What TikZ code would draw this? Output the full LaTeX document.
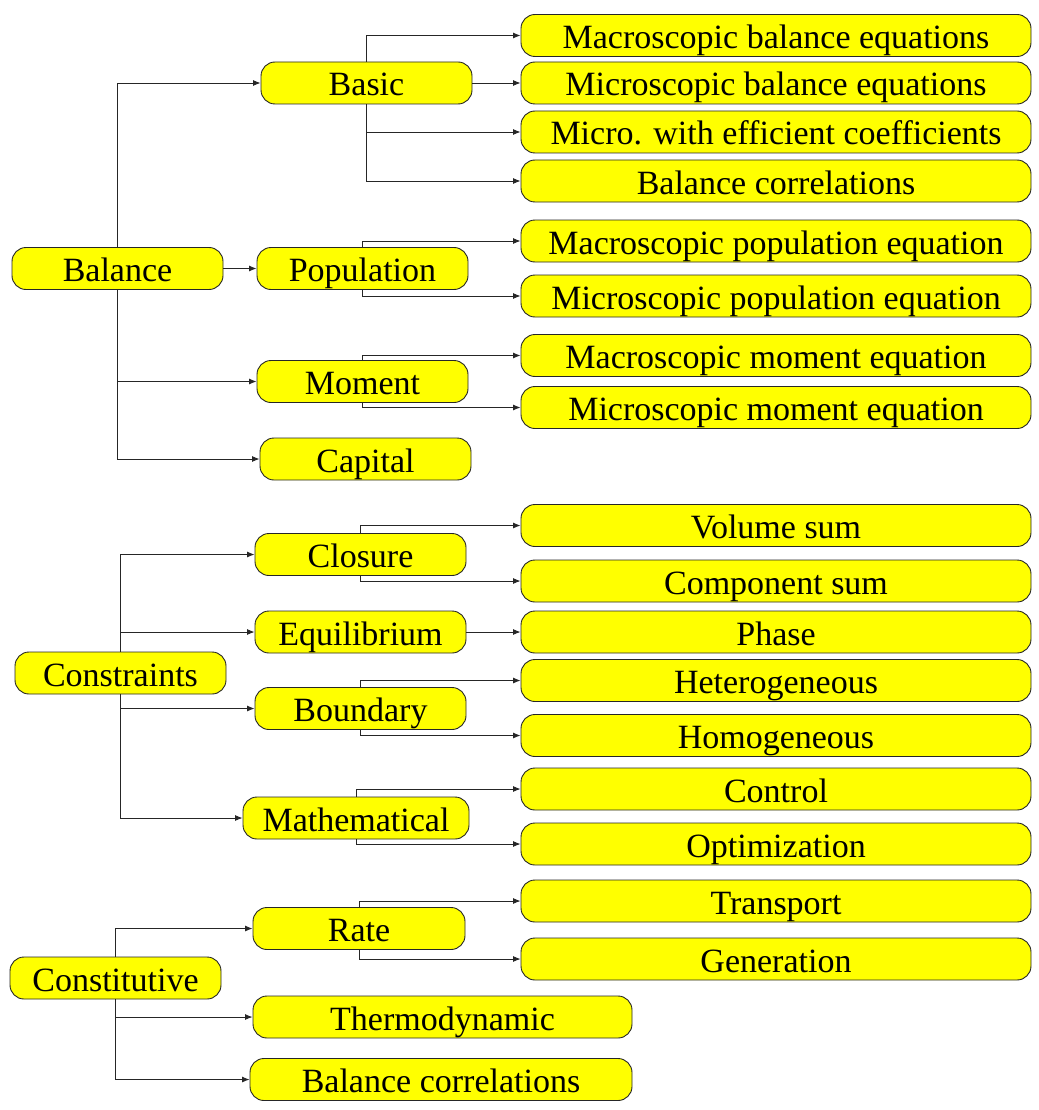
\documentclass[tikz,border=0pt]{standalone}
\usepackage{fontspec}
\setmainfont{Liberation Serif}
\usetikzlibrary{arrows.meta}
\definecolor{yel}{RGB}{255,255,0}
\begin{document}
\begin{tikzpicture}[x=1pt,y=-1pt,
  box/.style={draw=black!85, line width=0.9pt, fill=yel, rounded corners=14pt,
    inner sep=0pt, minimum height=42pt, text height=26pt, text depth=0pt,
    font=\fontsize{34}{40}\selectfont},
  arr/.style={draw=black!85, line width=0.9pt, -{Latex[length=7.5pt,width=6pt]}}]
\useasboundingbox (0,0) rectangle (1038,1110);
% left column
\node[box, minimum width=211pt] (bal) at (117.5,268.5) {Balance};
\node[box, minimum width=211pt] (con) at (120.5,673) {Constraints};
\node[box, minimum width=211pt] (cst) at (115.5,978) {Constitutive};
% middle column
\node[box, minimum width=211pt] (basic) at (366.5,83) {Basic};
\node[box, minimum width=211pt] (pop) at (362.5,268.5) {Population};
\node[box, minimum width=211pt] (mom) at (362.5,381.5) {Moment};
\node[box, minimum width=211pt] (cap) at (365.5,459) {Capital};
\node[box, minimum width=211pt] (clo) at (360.5,554.5) {Closure};
\node[box, minimum width=211pt] (equ) at (360.5,632) {Equilibrium};
\node[box, minimum width=211pt] (bou) at (360.5,708.5) {Boundary};
\node[box, minimum width=226pt] (mat) at (356,818) {Mathematical};
\node[box, minimum width=212pt] (rat) at (359,928.5) {Rate};
\node[box, minimum width=379pt] (the) at (442.5,1017) {Thermodynamic};
\node[box, minimum width=382pt] (bco) at (441,1079.5) {Balance correlations};
% right column
\node[box, minimum width=510pt] (mabe) at (776,35.5) {Macroscopic balance equations};
\node[box, minimum width=510pt] (mibe) at (776,83) {Microscopic balance equations};
\node[box, minimum width=510pt] (mwec) at (776,132) {Micro. with efficient coefficients};
\node[box, minimum width=510pt] (bcr) at (776,181) {Balance correlations};
\node[box, minimum width=510pt] (mape) at (776,241) {Macroscopic population equation};
\node[box, minimum width=510pt] (mipe) at (776,296) {Microscopic population equation};
\node[box, minimum width=510pt] (mame) at (776,355.5) {Macroscopic moment equation};
\node[box, minimum width=510pt] (mime) at (776,407.5) {Microscopic moment equation};
\node[box, minimum width=510pt] (vol) at (776,525.5) {Volume sum};
\node[box, minimum width=510pt] (com) at (776,581) {Component sum};
\node[box, minimum width=510pt] (pha) at (776,632) {Phase};
\node[box, minimum width=510pt] (het) at (776,680.5) {Heterogeneous};
\node[box, minimum width=510pt] (hom) at (776,735.5) {Homogeneous};
\node[box, minimum width=510pt] (ctl) at (776,789) {Control};
\node[box, minimum width=510pt] (opt) at (776,844) {Optimization};
\node[box, minimum width=510pt] (tra) at (776,901) {Transport};
\node[box, minimum width=510pt] (gen) at (776,959) {Generation};
% connectors: Balance
\draw[arr] (bal.north) |- (basic.west);
\draw[arr] (bal.east) -- (pop.west);
\draw[arr] (bal.south) |- (mom.west);
\draw[arr] (bal.south) |- (cap.west);
\draw[arr] (basic.north) |- (mabe.west);
\draw[arr] (basic.east) -- (mibe.west);
\draw[arr] (basic.south) |- (mwec.west);
\draw[arr] (basic.south) |- (bcr.west);
\draw[arr] (pop.north) |- (mape.west);
\draw[arr] (pop.south) |- (mipe.west);
\draw[arr] (mom.north) |- (mame.west);
\draw[arr] (mom.south) |- (mime.west);
% Constraints
\draw[arr] (con.north) |- (clo.west);
\draw[arr] (con.north) |- (equ.west);
\draw[arr] (con.south) |- (bou.west);
\draw[arr] (con.south) |- (mat.west);
\draw[arr] (clo.north) |- (vol.west);
\draw[arr] (clo.south) |- (com.west);
\draw[arr] (equ.east) -- (pha.west);
\draw[arr] (bou.north) |- (het.west);
\draw[arr] (bou.south) |- (hom.west);
\draw[arr] (mat.north) |- (ctl.west);
\draw[arr] (mat.south) |- (opt.west);
% Constitutive
\draw[arr] (cst.north) |- (rat.west);
\draw[arr] (cst.south) |- (the.west);
\draw[arr] (cst.south) |- (bco.west);
\draw[arr] (rat.north) |- (tra.west);
\draw[arr] (rat.south) |- (gen.west);
\end{tikzpicture}
\end{document}
